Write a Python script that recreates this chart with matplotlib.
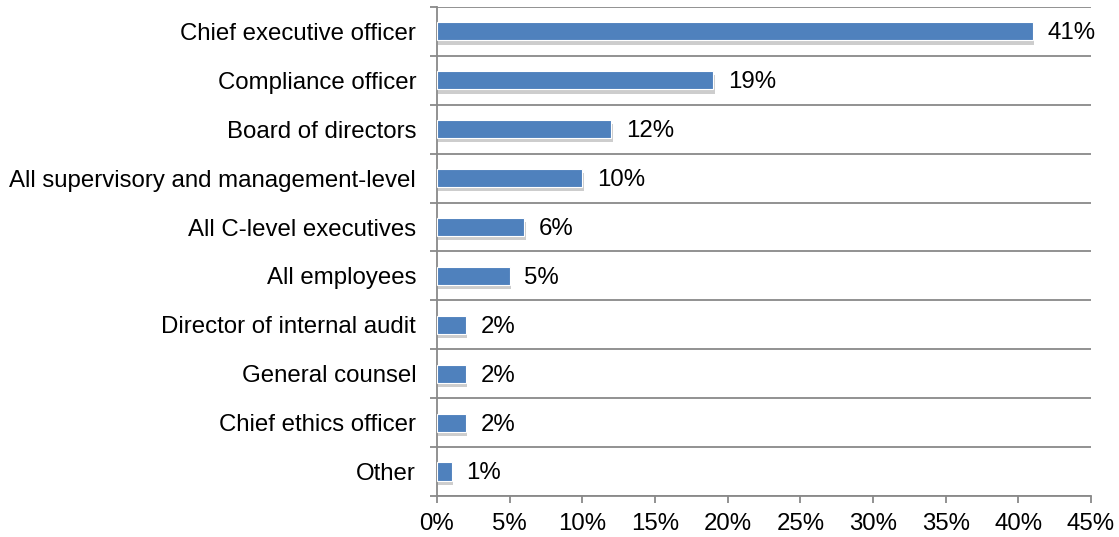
import numpy as np
import matplotlib.pyplot as plt
import matplotlib.patheffects as pe
from matplotlib.ticker import FixedLocator, PercentFormatter

plt.rcParams['font.family'] = ['Liberation Sans', 'DejaVu Sans']

categories = ['Chief executive officer', 'Compliance officer', 'Board of directors',
              'All supervisory and management-level', 'All C-level executives',
              'All employees', 'Director of internal audit', 'General counsel',
              'Chief ethics officer', 'Other']
values = [41, 19, 12, 10, 6, 5, 2, 2, 2, 1]

fig = plt.figure(figsize=(11.19, 5.37), dpi=100)
ax = fig.add_axes([0.3905, 0.0764, 0.975 - 0.3905, 0.987 - 0.0764])

y = np.arange(len(categories))
bars = ax.barh(y, values, height=0.37, color='#4F81BD', edgecolor='white', linewidth=0.8, zorder=3)
for b in bars:
    b.set_path_effects([pe.SimplePatchShadow(offset=(1, -3), shadow_rgbFace='#909090', alpha=0.45),
                        pe.Normal()])

for yi, v in zip(y, values):
    ax.text(v + 1.0, yi + 0.04, f'{v}%', va='center', ha='left', fontsize=17.3)

ax.set_xlim(0, 45)
ax.set_ylim(len(categories) - 0.5, -0.5)
ax.set_xticks(np.arange(0, 46, 5))
ax.xaxis.set_major_formatter(PercentFormatter(decimals=0))
ax.set_yticks(y)
ax.set_yticklabels(categories)
ax.yaxis.set_minor_locator(FixedLocator(np.arange(-0.5, len(categories), 1)))
ax.tick_params(axis='y', which='major', length=0, pad=15, labelsize=17.3)
ax.tick_params(axis='y', which='minor', length=5, color='#898989', width=1.3)
ax.tick_params(axis='x', length=5, color='#898989', width=1.3, labelsize=17.3, pad=7)
ax.grid(axis='y', which='minor', color='#898989', linewidth=1.3, zorder=0)

for s in ['top', 'right']:
    ax.spines[s].set_visible(False)
for s in ['left', 'bottom']:
    ax.spines[s].set_color('#898989')
    ax.spines[s].set_linewidth(1.3)

fig.savefig('out.png', dpi=100)
